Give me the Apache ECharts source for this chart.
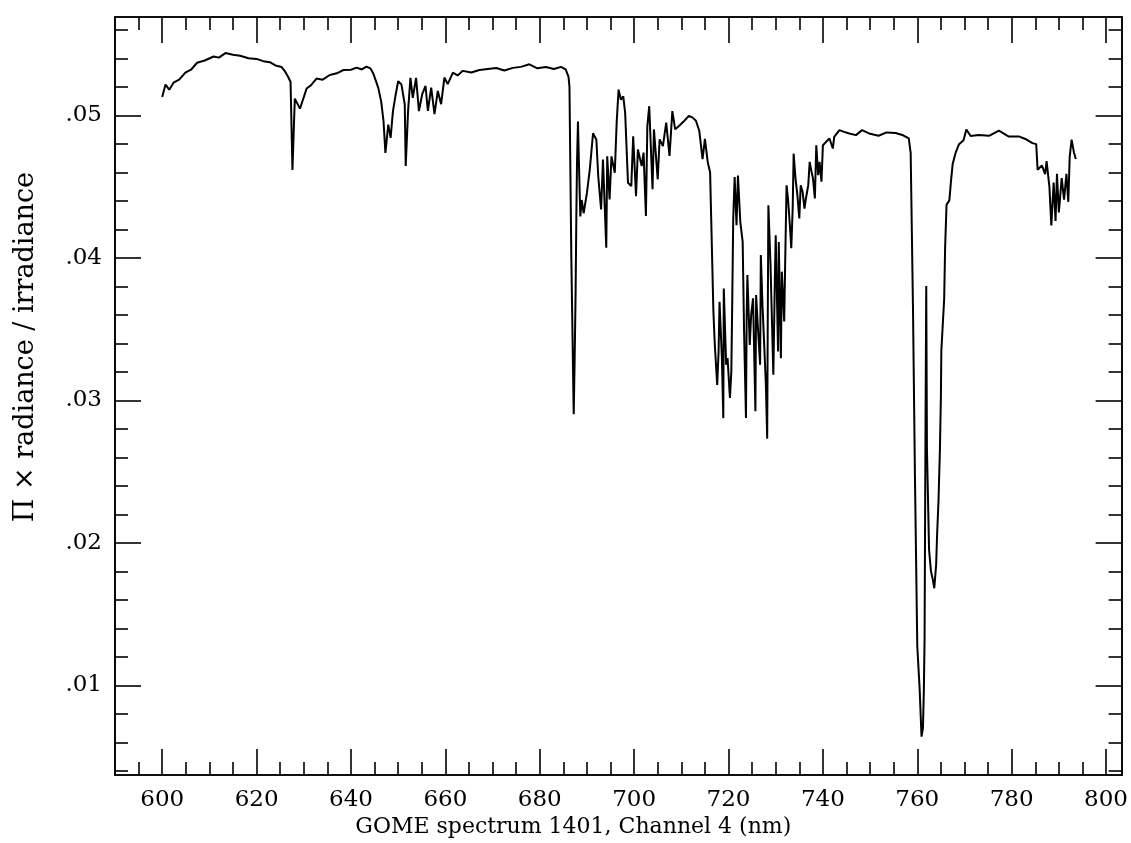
<!DOCTYPE html>
<html>
<head>
<meta charset="utf-8">
<title>GOME spectrum 1401, Channel 4</title>
<script src="https://cdn.jsdelivr.net/npm/echarts@6/dist/echarts.min.js"></script>
<style>
  html, body { margin: 0; padding: 0; background: #fff; }
  #chart { width: 1131px; height: 843px; }
</style>
</head>
<body>
<div id="chart"></div>
<script>
// wavelength (nm)
var wavelength = [
  600.0, 600.7, 601.5, 602.4, 603.6, 604.9, 606.1, 607.4, 609.0, 610.9,
  612.0, 613.4, 615.0, 616.5, 618.3, 620.0, 621.4, 622.8, 624.0, 625.3,
  626.0, 626.7, 627.2, 627.6, 628.1, 629.2, 630.6, 631.5, 632.7, 634.0,
  635.5, 637.0, 638.4, 640.0, 641.2, 642.3, 643.3, 644.1, 644.7, 645.3,
  645.8, 646.4, 646.9, 647.3, 647.9, 648.4, 648.9, 649.5, 650.0, 650.7,
  651.4, 651.6, 652.1, 652.6, 653.1, 653.8, 654.4, 655.1, 655.8, 656.3,
  657.0, 657.7, 658.4, 659.1, 659.8, 660.5, 661.6, 662.6, 663.7, 665.5,
  667.2, 669.0, 670.8, 672.5, 674.3, 676.0, 677.8, 679.5, 681.3, 683.0,
  684.5, 685.5, 686.1, 686.3,
  686.7, 687.2, 687.4, 687.6, 687.75, 687.9, 688.1, 688.3, 688.6, 688.9,
  689.3, 690.0, 690.6, 691.3, 692.0, 692.4, 693.0, 693.4, 694.1, 694.3,
  694.8, 695.2, 695.9, 696.3, 696.7, 697.2, 697.7, 698.1, 698.7, 699.4,
  699.8, 700.4, 700.8, 701.6, 702.0, 702.5, 702.8, 703.2, 703.9, 704.2,
  705.0, 705.4, 706.1, 706.8, 707.5, 708.1, 708.7, 709.5, 710.6, 711.6,
  712.4, 713.1, 713.8, 714.5, 715.0, 715.6, 716.1, 716.4, 716.8, 717.1,
  717.6, 717.9, 718.1, 718.6, 718.9, 719.0, 719.5, 719.8, 720.3, 720.6,
  720.8, 721.0, 721.3, 721.7, 722.0, 722.5, 723.0, 723.3, 723.7, 723.85,
  724.0, 724.5, 724.8, 725.2, 725.7, 725.85, 726.2, 726.7, 726.85, 727.2,
  727.9, 728.2, 728.3, 728.45, 728.9, 729.5, 729.8, 730.0, 730.5, 730.65,
  731.1, 731.3, 731.8, 732.0, 732.3, 732.6, 733.0, 733.3, 733.6, 733.8,
  734.2, 734.6, 735.0, 735.3, 735.7, 736.1, 736.4, 736.9, 737.2, 737.6,
  737.9, 738.3, 738.6, 739.0, 739.3, 739.7, 740.0, 740.7, 741.4, 742.1,
  742.4, 743.5, 744.5, 745.6, 747.0, 748.3, 750.0, 751.8, 753.5, 755.4,
  757.0, 758.2, 758.6, 759.1, 759.5, 760.0, 760.5, 760.9, 761.2, 761.4,
  761.55, 761.65, 761.75, 761.9, 762.05, 762.5, 762.9, 763.3, 763.6, 764.0,
  764.2, 764.5, 764.8, 765.0, 765.1, 765.5, 765.7, 765.9, 766.2, 766.8,
  767.1, 767.5, 768.1, 768.8, 769.8, 770.4, 771.3, 773.0, 775.2, 777.3,
  779.4, 781.5, 782.9, 784.4, 785.2, 785.5, 786.4, 787.1, 787.4, 788.0,
  788.4, 788.9, 789.3, 789.6, 790.0, 790.6, 791.1, 791.6, 792.0, 792.3,
  792.7, 793.2, 793.6
];

// pi x radiance / irradiance
var reflectance = [
  0.05128, 0.05216, 0.05180, 0.05229, 0.05250, 0.05300, 0.05320, 0.05369, 0.05385, 0.05413,
  0.05405, 0.05437, 0.05425, 0.05418, 0.05400, 0.05396, 0.05380, 0.05373, 0.05350, 0.05339,
  0.05310, 0.05269, 0.05234, 0.04617, 0.05117, 0.05047, 0.05188, 0.05210, 0.05258, 0.05250,
  0.05283, 0.05295, 0.05318, 0.05320, 0.05335, 0.05322, 0.05342, 0.05330, 0.05296, 0.05240,
  0.05191, 0.05098, 0.04958, 0.04736, 0.04935, 0.04842, 0.05029, 0.05150, 0.05239, 0.05216,
  0.05076, 0.04644, 0.05029, 0.05263, 0.05123, 0.05263, 0.05030, 0.05148, 0.05206, 0.05031,
  0.05194, 0.05008, 0.05171, 0.05078, 0.05265, 0.05219, 0.05300, 0.05280, 0.05312, 0.05300,
  0.05318, 0.05325, 0.05332, 0.05315, 0.05333, 0.05340, 0.05358, 0.05330, 0.05339, 0.05325,
  0.05340, 0.05322, 0.05270, 0.05200,
  0.03987, 0.02903, 0.03288, 0.03754, 0.04267, 0.04671, 0.04956, 0.04671, 0.04290, 0.04406,
  0.04313, 0.04455, 0.04618, 0.04874, 0.04829, 0.04572, 0.04339, 0.04689, 0.04071, 0.04712,
  0.04409, 0.04712, 0.04597, 0.04947, 0.05180, 0.05110, 0.05133, 0.05017, 0.04527, 0.04503,
  0.04853, 0.04433, 0.04760, 0.04644, 0.04738, 0.04294, 0.04924, 0.05064, 0.04481, 0.04901,
  0.04551, 0.04831, 0.04784, 0.04949, 0.04715, 0.05030, 0.04902, 0.04925, 0.04960, 0.04996,
  0.04984, 0.04962, 0.04892, 0.04693, 0.04834, 0.04671, 0.04601, 0.04181, 0.03622, 0.03388,
  0.03108, 0.03342, 0.03692, 0.03295, 0.02875, 0.03785, 0.03249, 0.03296, 0.03016, 0.03203,
  0.03714, 0.04274, 0.04567, 0.04228, 0.04578, 0.04252, 0.04112, 0.03482, 0.02876, 0.03599,
  0.03879, 0.03389, 0.03599, 0.03716, 0.02923, 0.03739, 0.03529, 0.03249, 0.04019, 0.03669,
  0.03128, 0.02731, 0.03457, 0.04369, 0.03950, 0.03180, 0.03809, 0.04159, 0.03342, 0.04111,
  0.03296, 0.03903, 0.03553, 0.03950, 0.04509, 0.04416, 0.04230, 0.04067, 0.04346, 0.04731,
  0.04556, 0.04439, 0.04276, 0.04509, 0.04463, 0.04346, 0.04416, 0.04510, 0.04673, 0.04603,
  0.04557, 0.04417, 0.04790, 0.04580, 0.04673, 0.04534, 0.04790, 0.04814, 0.04837, 0.04767,
  0.04849, 0.04896, 0.04884, 0.04872, 0.04861, 0.04896, 0.04870, 0.04857, 0.04880, 0.04876,
  0.04860, 0.04838, 0.04735, 0.03622, 0.02479, 0.01276, 0.00975, 0.00640, 0.00700, 0.00975,
  0.01336, 0.02118, 0.02840, 0.03802, 0.02659, 0.01950, 0.01800, 0.01740, 0.01681, 0.01847,
  0.02057, 0.02298, 0.02659, 0.03019, 0.03350, 0.03350, 0.03711, 0.04072, 0.04373, 0.04403,
  0.04523, 0.04659, 0.04734, 0.04795, 0.04825, 0.04901, 0.04855, 0.04862, 0.04856, 0.04893,
  0.04851, 0.04852, 0.04834, 0.04805, 0.04798, 0.04618, 0.04648, 0.04588, 0.04678, 0.04498,
  0.04228, 0.04528, 0.04258, 0.04589, 0.04318, 0.04559, 0.04408, 0.04589, 0.04393, 0.04709,
  0.04829, 0.04739, 0.04694
];

var xMajorTicks = [600, 620, 640, 660, 680, 700, 720, 740, 760, 780, 800];
var xMinorTicks = [595, 605, 610, 615, 625, 630, 635, 645, 650, 655, 665, 670, 675,
  685, 690, 695, 705, 710, 715, 725, 730, 735, 745, 750, 755, 765, 770, 775, 785, 790, 795];
var yMajorTicks = [0.01, 0.02, 0.03, 0.04, 0.05];
var yMinorTicks = [0.004, 0.006, 0.008, 0.012, 0.014, 0.016, 0.018, 0.022, 0.024, 0.026, 0.028,
  0.032, 0.034, 0.036, 0.038, 0.042, 0.044, 0.046, 0.048, 0.052, 0.054, 0.056];

var X_MIN = 590, X_MAX = 803.3;
var Y_MIN = 0.0037, Y_MAX = 0.0569;
var FONT = 'DejaVu Serif';

var chart = echarts.init(document.getElementById('chart'));

var points = wavelength.map(function (w, i) { return [w, reflectance[i]]; });

function tickAxis(position, values, len, extra) {
  var horizontal = position === 'top' || position === 'bottom';
  var ax = {
    type: 'value',
    position: position,
    min: horizontal ? X_MIN : Y_MIN,
    max: horizontal ? X_MAX : Y_MAX,
    axisLine: { show: true, onZero: false, lineStyle: { color: '#000', width: 1.6 } },
    axisTick: { show: true, inside: true, length: len, customValues: values,
      lineStyle: { color: '#000', width: 1.6 } },
    axisLabel: { show: false },
    splitLine: { show: false },
    silent: true
  };
  for (var k in extra) ax[k] = extra[k];
  return ax;
}

var option = {
  backgroundColor: '#fff',
  animation: false,
  grid: { left: 115, right: 8, top: 17, bottom: 65 },
  xAxis: [
    tickAxis('bottom', xMajorTicks, 26, {
      axisLabel: {
        show: true, customValues: xMajorTicks, margin: 13,
        color: '#000', fontFamily: FONT, fontSize: 23
      },
      name: 'GOME spectrum 1401, Channel 4 (nm)',
      nameLocation: 'middle',
      nameGap: 35,
      nameTextStyle: { color: '#000', fontFamily: FONT, fontSize: 22, padding: [0, 90, 0, 0] }
    }),
    tickAxis('bottom', xMinorTicks, 13, {}),
    tickAxis('top', xMajorTicks, 26, {}),
    tickAxis('top', xMinorTicks, 13, {})
  ],
  yAxis: [
    tickAxis('left', yMajorTicks, 26, {
      axisLabel: {
        show: true, customValues: yMajorTicks, margin: 13,
        color: '#000', fontFamily: FONT, fontSize: 23,
        formatter: function (v) { return v.toFixed(2).replace(/^0/, ''); }
      },
      name: 'Π × radiance / irradiance',
      nameLocation: 'middle',
      nameRotate: 90,
      nameGap: 76,
      nameTextStyle: { color: '#000', fontFamily: FONT, fontSize: 27, padding: [0, 0, 0, 98] }
    }),
    tickAxis('left', yMinorTicks, 13, {}),
    tickAxis('right', yMajorTicks, 26, {}),
    tickAxis('right', yMinorTicks, 13, {})
  ],
  series: [
    {
      name: 'spectrum',
      type: 'line',
      xAxisIndex: 0,
      yAxisIndex: 0,
      data: points,
      showSymbol: false,
      sampling: null,
      lineStyle: { color: '#000', width: 2 }
    }
  ]
};

chart.setOption(option);
</script>
</body>
</html>
